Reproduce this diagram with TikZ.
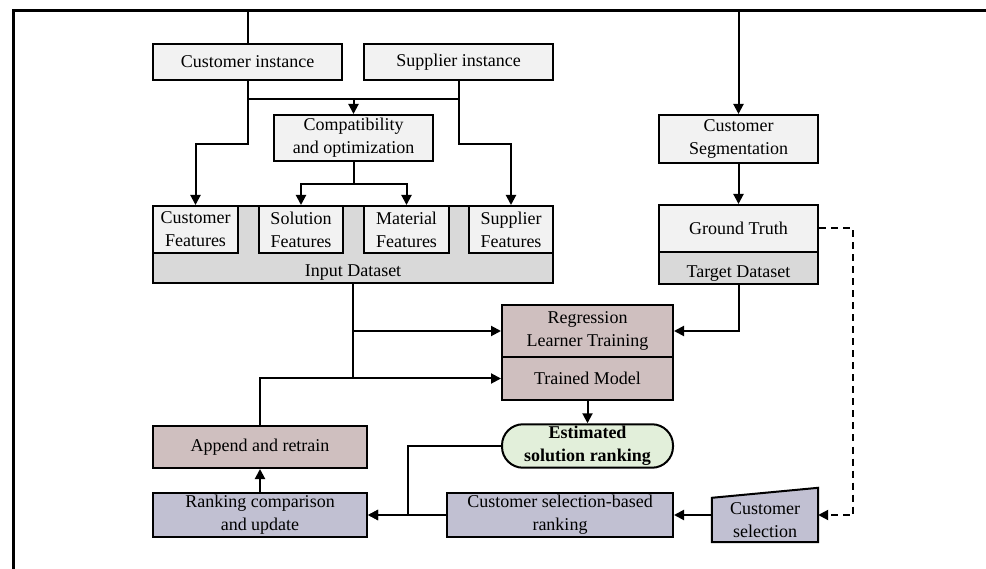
\documentclass[tikz,border=0pt]{standalone}
\usepackage{fontspec}
\setmainfont{Liberation Serif}
\usetikzlibrary{arrows.meta}

\definecolor{lightfill}{HTML}{F2F2F2}
\definecolor{grayfill}{HTML}{D9D9D9}
\definecolor{modelfill}{HTML}{CFBFBF}
\definecolor{rankfill}{HTML}{C1C0D2}
\definecolor{outfill}{HTML}{E2EFDA}

\tikzset{
  box/.style={draw, line width=2pt, align=center, inner sep=2pt},
  link/.style={line width=2pt},
  flowarrow/.style={line width=2pt, -{Triangle[length=10pt,width=10pt]}},
}

\begin{document}
\begin{tikzpicture}[x=1pt, y=-1pt, font=\fontsize{18}{23}\selectfont]
        \useasboundingbox (0,0) rectangle (986,569);

        % Frame
        \coordinate (fbot) at (13,569);
        \coordinate (fcorner) at (13,11);
        \coordinate (fright) at (986,11);
        \draw[line width=3pt] (fbot) -- (fcorner) -- (fright);

        % Nodes
        \node[box, fill=lightfill, minimum width=189pt, minimum height=36pt] (cinst) at (247.5,62) {Customer instance};
        \node[box, fill=lightfill, minimum width=189pt, minimum height=36pt] (sinst) at (458.5,62) {Supplier instance};
        \node[box, fill=lightfill, minimum width=159pt, minimum height=46pt] (compat) at (353.5,138) {Compatibility\\and optimization};

        \node[box, fill=grayfill, minimum width=400pt, minimum height=77pt] (inds) at (353,244.5) {};
        \node[anchor=south, inner sep=3pt] (indslab) at (inds.south) {Input Dataset};
        \node[box, fill=lightfill, minimum width=85pt, minimum height=47pt] (cfeat) at (195.5,229.5) {Customer\\Features};
        \node[box, fill=lightfill, minimum width=84pt, minimum height=47pt] (sfeat) at (301,229.5) {Solution\\Features};
        \node[box, fill=lightfill, minimum width=85pt, minimum height=47pt] (mfeat) at (406.5,229.5) {Material\\Features};
        \node[box, fill=lightfill, minimum width=84pt, minimum height=47pt] (supfeat) at (511,229.5) {Supplier\\Features};

        \node[box, fill=lightfill, minimum width=159pt, minimum height=48pt] (cseg) at (738.5,139) {Customer\\Segmentation};
        \node[box, fill=grayfill, minimum width=159pt, minimum height=79pt] (tds) at (738.5,244.5) {};
        \node[anchor=south, inner sep=3pt] (tdslab) at (tds.south) {Target Dataset};
        \node[box, fill=lightfill, minimum width=159pt, minimum height=47pt] (gtruth) at (738.5,228.5) {Ground Truth};

        \node[box, fill=modelfill, minimum width=171pt, minimum height=52pt] (regr) at (587.5,331) {Regression\\Learner Training};
        \node[box, fill=modelfill, minimum width=171pt, minimum height=43pt] (trained) at (587.5,378.5) {Trained Model};
        \node[box, fill=outfill, rounded corners=21pt, minimum width=171pt, minimum height=42pt, font=\fontsize{18}{23}\selectfont\bfseries] (est) at (587.5,446) {Estimated\\solution ranking};

        \node[box, fill=modelfill, minimum width=214pt, minimum height=42pt] (append) at (260,447) {Append and retrain};
        \node[box, fill=rankfill, minimum width=214pt, minimum height=42pt] (rankcomp) at (260,515) {Ranking comparison\\and update};
        \node[box, fill=rankfill, minimum width=226pt, minimum height=42pt] (csbr) at (560,515) {Customer selection-based\\ranking};

        \node[minimum width=106pt, minimum height=54pt, inner sep=0pt] (csel) at (765,515) {};
        \draw[line width=2pt, fill=rankfill] (csel.south west) -- (csel.south east) -- (csel.north east) -- ([yshift=-10pt]csel.north west) -- cycle;
        \node[align=center, inner sep=0pt] (csellab) at ([yshift=-5pt]csel.center) {Customer\\selection};

        % Edges
        \draw[link] (cinst.north) -- (cinst.north |- fcorner);
        \draw[flowarrow] (cseg.north |- fcorner) -- (cseg.north);
        \draw[link] (cinst.south) -- ++(0,18) coordinate (jleft) -- (sinst.south |- jleft) -- (sinst.south);
        \draw[flowarrow] (compat.north |- jleft) -- (compat.north);
        \draw[flowarrow] (cinst.south) -- ++(0,63) -| (cfeat.north);
        \draw[flowarrow] (sinst.south) -- ++(0,63) -| (supfeat.north);
        \draw[link] (compat.south) -- ++(0,22) coordinate (cj);
        \draw[flowarrow] (cj) -| (sfeat.north);
        \draw[flowarrow] (cj) -| (mfeat.north);

        \draw[flowarrow] (cseg.south) -- (gtruth.north);
        \draw[flowarrow, dashed, dash pattern=on 7pt off 5pt] (gtruth.east) -- ++(34,0) |- (csel.east);

        \draw[link] (inds.south) -- (inds.south |- trained.west);
        \draw[flowarrow] (inds.south) |- (regr.west);
        \draw[flowarrow] (append.north) |- (trained.west);
        \draw[flowarrow] (tds.south) |- (regr.east);
        \draw[flowarrow] (trained.south) -- (est.north);

        \draw[flowarrow] (est.west) -- ++(-93,0) |- (rankcomp.east);
        \draw[flowarrow] (csbr.west) -- (rankcomp.east);
        \draw[flowarrow] (csel.west) -- (csbr.east);
        \draw[flowarrow] (rankcomp.north) -- (append.south);
    \end{tikzpicture}
\end{document}
